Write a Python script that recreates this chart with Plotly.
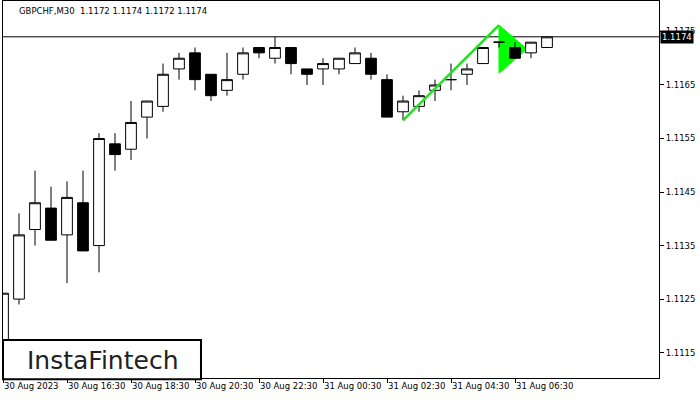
import plotly.graph_objects as go
import pandas as pd

# ---- data -------------------------------------------------------------
times = pd.date_range("2023-08-30 14:30", periods=35, freq="30min")
opens = [1.11174, 1.1125, 1.1138, 1.1142, 1.1137, 1.1143, 1.1135, 1.1154, 1.1153, 1.1159,
         1.1161, 1.1168, 1.1171, 1.1167, 1.1164, 1.1167, 1.1172, 1.1170, 1.1172, 1.1168,
         1.1168, 1.1168, 1.1169, 1.1170, 1.1166, 1.1160, 1.1161, 1.1164, 1.1166, 1.1167,
         1.1169, 1.1173, 1.1172, 1.1171, 1.1172]
highs = [1.11261, 1.1141, 1.1149, 1.1146, 1.1147, 1.1149, 1.1156, 1.1156, 1.1162, 1.1162,
         1.1169, 1.1171, 1.1172, 1.1167, 1.1171, 1.1172, 1.1172, 1.1174, 1.1172, 1.1168,
         1.1170, 1.1170, 1.1172, 1.1171, 1.1167, 1.1163, 1.1164, 1.1166, 1.1169, 1.1169,
         1.1172, 1.1173, 1.1173, 1.1173, 1.1174]
lows = [1.11174, 1.1124, 1.1135, 1.1136, 1.1128, 1.1134, 1.1130, 1.1149, 1.1151, 1.1155,
        1.1160, 1.1166, 1.1164, 1.1162, 1.1163, 1.1166, 1.1170, 1.1169, 1.1167, 1.1165,
        1.1165, 1.1167, 1.1169, 1.1166, 1.1159, 1.11584, 1.1160, 1.1162, 1.1164, 1.1165,
        1.1169, 1.1172, 1.1170, 1.1170, 1.1172]
closes = [1.11261, 1.1137, 1.1143, 1.1136, 1.1144, 1.1134, 1.1155, 1.1152, 1.1158, 1.1162,
          1.1167, 1.1170, 1.1166, 1.1163, 1.1166, 1.1171, 1.1171, 1.1172, 1.1169, 1.1167,
          1.1169, 1.1170, 1.1171, 1.1167, 1.1159, 1.1162, 1.1163, 1.1165, 1.1166, 1.1168,
          1.1172, 1.1173, 1.1170, 1.1173, 1.1174]

x_tick_times = ["2023-08-30 14:30", "2023-08-30 16:30", "2023-08-30 18:30", "2023-08-30 20:30",
                "2023-08-30 22:30", "2023-08-31 00:30", "2023-08-31 02:30", "2023-08-31 04:30",
                "2023-08-31 06:30"]
x_tick_labels = ["30 Aug 2023", "30 Aug 16:30", "30 Aug 18:30", "30 Aug 20:30", "30 Aug 22:30",
                 "31 Aug 00:30", "31 Aug 02:30", "31 Aug 04:30", "31 Aug 06:30"]
y_tick_values = [1.1115, 1.1125, 1.1135, 1.1145, 1.1155, 1.1165, 1.1175]
y_tick_labels = ["1.1115", "1.1125", "1.1135", "1.1145", "1.1155", "1.1165", "1.1175"]

current_price = 1.1174
title_text = "GBPCHF,M30  1.1172 1.1174 1.1172 1.1174"

pole_times = ["2023-08-31 03:00", "2023-08-31 06:00"]
pole_prices = [1.11584, 1.11762]
flag_times = ["2023-08-31 06:00", "2023-08-31 06:00", "2023-08-31 06:52:30"]
flag_prices = [1.11762, 1.11672, 1.11717]

x_range = ["2023-08-30 14:30", "2023-08-31 11:00"]
y_range = [1.111026, 1.118069]

FONT = "DejaVu Sans"
GREEN = "#00ff00"

fig = go.Figure()

# current price line (below everything)
fig.add_hline(y=current_price, line=dict(color="black", width=1), layer="below")

# flag triangle, drawn below the candles (built from the flag arrays; x in epoch ms)
flag_pts = [f"{pd.Timestamp(t).value // 10**6},{p}" for t, p in zip(flag_times, flag_prices)]
flag_path = "M " + " L ".join(flag_pts) + " Z"
fig.add_shape(type="path", path=flag_path, xref="x", yref="y",
              fillcolor=GREEN, line=dict(color=GREEN, width=1), layer="below")

fig.add_trace(go.Candlestick(
    x=times, open=opens, high=highs, low=lows, close=closes,
    increasing=dict(fillcolor="white", line=dict(color="black", width=1)),
    decreasing=dict(fillcolor="black", line=dict(color="black", width=1)),
    whiskerwidth=0, hoverinfo="skip"))

fig.add_trace(go.Scatter(
    x=pole_times, y=pole_prices, mode="lines",
    line=dict(color="#22e022", width=2.5), hoverinfo="skip"))

fig.update_layout(
    width=700, height=400,
    margin=dict(l=3, r=41, t=1, b=22, autoexpand=False),
    paper_bgcolor="white", plot_bgcolor="white",
    showlegend=False,
    boxgap=0.33, boxgroupgap=0,
    font=dict(family=FONT, size=8.5, color="black"),
    xaxis=dict(
        type="date", range=x_range, automargin=False,
        tickvals=x_tick_times, ticktext=x_tick_labels, tickangle=0,
        ticks="outside", ticklen=4, tickcolor="black",
        ticklabelposition="outside right",
        showgrid=False, zeroline=False,
        showline=True, mirror=True, linecolor="black", linewidth=1,
        rangeslider=dict(visible=False),
        tickfont=dict(family=FONT, size=8.5, color="black")),
    yaxis=dict(
        side="right", range=y_range, automargin=False,
        tickvals=y_tick_values, ticktext=y_tick_labels,
        ticks="outside", ticklen=4, tickcolor="black",
        showgrid=False, zeroline=False,
        showline=True, mirror=True, linecolor="black", linewidth=1,
        tickfont=dict(family=FONT, size=8.5, color="black")),
)

fig.add_annotation(
    xref="paper", yref="paper", x=0.0214, y=0.9735,
    xanchor="left", yanchor="middle", showarrow=False,
    text=title_text, font=dict(family=FONT, size=8.5, color="black"))

fig.add_annotation(
    xref="paper", yref="y", x=1, y=current_price, xshift=1,
    xanchor="left", yanchor="middle", showarrow=False,
    text=f"{current_price:.4f}", bgcolor="black", borderpad=1,
    font=dict(family=FONT, size=8.5, color="white"))

# logo
fig.add_shape(type="rect", xref="paper", yref="paper",
              x0=0, x1=0.3018, y0=-0.003, y1=0.1008,
              fillcolor="white", line=dict(color="black", width=2), layer="above")
fig.add_annotation(
    xref="paper", yref="paper", x=0.152, y=0.0477,
    xanchor="center", yanchor="middle", showarrow=False,
    text="InstaFintech", font=dict(family=FONT, size=25, color="#222222"))

fig.write_html("out.html", config={"displayModeBar": False},
               post_script="document.body.style.margin='0';")
